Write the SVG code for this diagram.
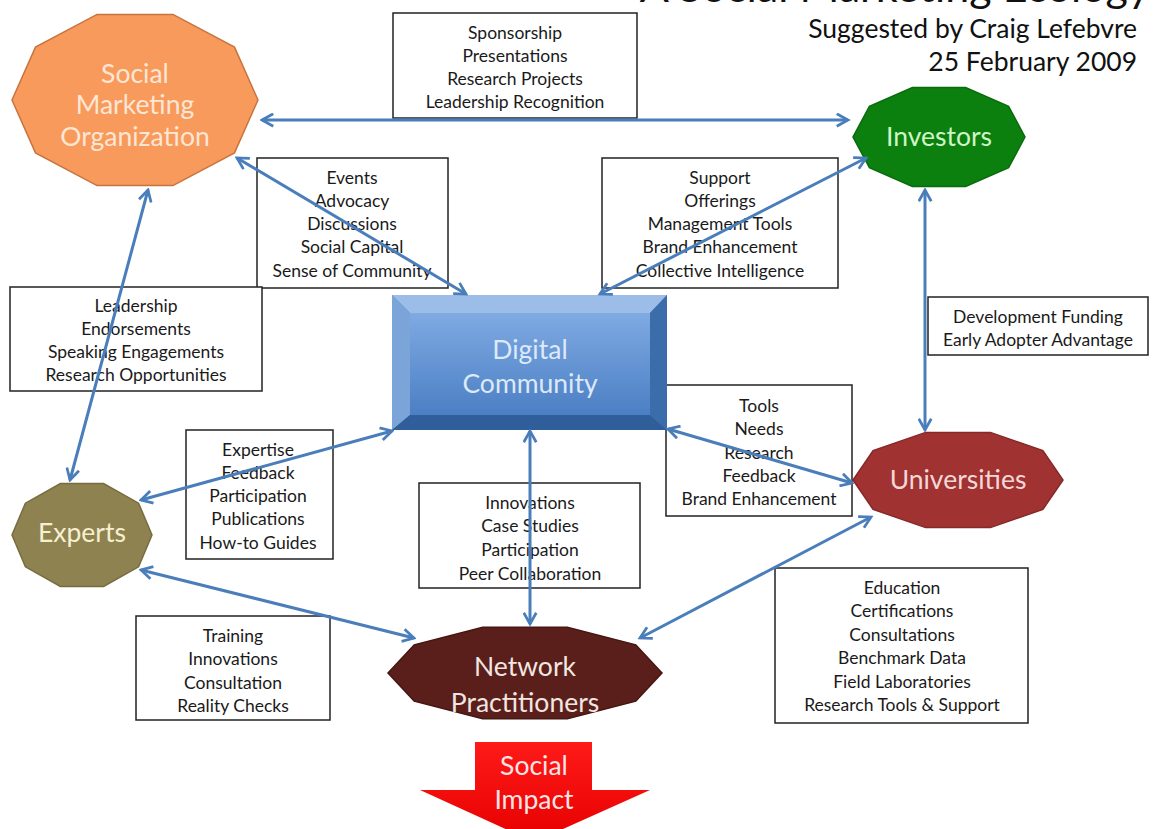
<svg xmlns="http://www.w3.org/2000/svg" width="1157" height="829" viewBox="0 0 1157 829">
<defs>
<style>
.lbl{fill:#fff;stroke:#222;stroke-width:1.5}
.lt{font-family:Lato,"Liberation Sans",sans-serif;font-size:17.5px;fill:#1a1a1a;text-anchor:middle}
.nt{font-family:Lato,"Liberation Sans",sans-serif;font-size:26.5px;text-anchor:middle}
.hd{font-family:Lato,"Liberation Sans",sans-serif;font-size:26.5px;fill:#111;text-anchor:end}
.cn{stroke:#4A7EBB;stroke-width:3;fill:none;marker-start:url(#ah);marker-end:url(#ah)}
</style>
<marker id="ah" viewBox="0 0 12 12" refX="10" refY="6" markerWidth="5" markerHeight="5" orient="auto-start-reverse" markerUnits="strokeWidth">
<path d="M1,1 L10,6 L1,11" fill="none" stroke="#4A7EBB" stroke-width="2.2" stroke-linejoin="miter"/>
</marker>
<linearGradient id="face" x1="0" y1="0" x2="0" y2="1">
<stop offset="0" stop-color="#7FAAE2"/>
<stop offset="1" stop-color="#4B7FC4"/>
</linearGradient>
<linearGradient id="red" x1="0" y1="0" x2="0" y2="1">
<stop offset="0" stop-color="#FF1A1A"/>
<stop offset="1" stop-color="#E60000"/>
</linearGradient>
</defs>
<rect width="1157" height="829" fill="#fff"/>

<g id="title">
<text x="1150" y="2" font-family="Lato,'Liberation Sans',sans-serif" font-size="43" fill="#111" text-anchor="end">A Social Marketing Ecology</text>
<text class="hd" x="1137" y="38">Suggested by Craig Lefebvre</text>
<text class="hd" x="1137" y="71">25 February 2009</text>
</g>

<g id="labels">
<g id="lbl-top"><rect class="lbl" x="393" y="13" width="244" height="105"/>
<text class="lt" x="515" y="39">Sponsorship</text><text class="lt" x="515" y="62">Presentations</text><text class="lt" x="515" y="85">Research Projects</text><text class="lt" x="515" y="108">Leadership Recognition</text></g>
<g id="lbl-events"><rect class="lbl" x="257" y="158" width="191" height="130"/>
<text class="lt" x="352" y="184">Events</text><text class="lt" x="352" y="207">Advocacy</text><text class="lt" x="352" y="230">Discussions</text><text class="lt" x="352" y="253">Social Capital</text><text class="lt" x="352" y="277">Sense of Community</text></g>
<g id="lbl-support"><rect class="lbl" x="602" y="158" width="236" height="130"/>
<text class="lt" x="720" y="184">Support</text><text class="lt" x="720" y="207">Offerings</text><text class="lt" x="720" y="230">Management Tools</text><text class="lt" x="720" y="253">Brand Enhancement</text><text class="lt" x="720" y="277">Collective Intelligence</text></g>
<g id="lbl-leadership"><rect class="lbl" x="10" y="287" width="252" height="104"/>
<text class="lt" x="136" y="312">Leadership</text><text class="lt" x="136" y="335">Endorsements</text><text class="lt" x="136" y="358">Speaking Engagements</text><text class="lt" x="136" y="381">Research Opportunities</text></g>
<g id="lbl-funding"><rect class="lbl" x="928" y="297" width="220" height="58"/>
<text class="lt" x="1038" y="323">Development Funding</text><text class="lt" x="1038" y="346">Early Adopter Advantage</text></g>
<g id="lbl-tools"><rect class="lbl" x="666" y="385" width="186" height="131"/>
<text class="lt" x="759" y="412">Tools</text><text class="lt" x="759" y="435">Needs</text><text class="lt" x="759" y="459">Research</text><text class="lt" x="759" y="482">Feedback</text><text class="lt" x="759" y="505">Brand Enhancement</text></g>
<g id="lbl-expertise"><rect class="lbl" x="186" y="430" width="147" height="129"/>
<text class="lt" x="258" y="456">Expertise</text><text class="lt" x="258" y="479">Feedback</text><text class="lt" x="258" y="502">Participation</text><text class="lt" x="258" y="525">Publications</text><text class="lt" x="258" y="549">How-to Guides</text></g>
<g id="lbl-innov"><rect class="lbl" x="419" y="483" width="221" height="105"/>
<text class="lt" x="530" y="509">Innovations</text><text class="lt" x="530" y="532">Case Studies</text><text class="lt" x="530" y="556">Participation</text><text class="lt" x="530" y="580">Peer Collaboration</text></g>
<g id="lbl-training"><rect class="lbl" x="136" y="616" width="194" height="104"/>
<text class="lt" x="233" y="642">Training</text><text class="lt" x="233" y="665">Innovations</text><text class="lt" x="233" y="689">Consultation</text><text class="lt" x="233" y="712">Reality Checks</text></g>
<g id="lbl-education"><rect class="lbl" x="775" y="568" width="253" height="155"/>
<text class="lt" x="902" y="594">Education</text><text class="lt" x="902" y="617">Certifications</text><text class="lt" x="902" y="641">Consultations</text><text class="lt" x="902" y="664">Benchmark Data</text><text class="lt" x="902" y="688">Field Laboratories</text><text class="lt" x="902" y="711">Research Tools &amp; Support</text></g>
</g>

<g id="smo">
<polygon points="258,100 234.5,152.9 173,185.6 97,185.6 35.5,152.9 12,100 35.5,47.1 97,14.4 173,14.4 234.5,47.1" fill="#F79A5C" stroke="#C8743F" stroke-width="1.5"/>
<text class="nt" x="135" y="83" fill="#FDE6D4">Social</text>
<text class="nt" x="135" y="114" fill="#FDE6D4">Marketing</text>
<text class="nt" x="135" y="146" fill="#FDE6D4">Organization</text>
</g>
<g id="investors">
<polygon points="1025,137 1008.6,167.6 965.6,186.5 912.4,186.5 869.4,167.6 853,137 869.4,106.4 912.4,87.5 965.6,87.5 1008.6,106.4" fill="#0B800E" stroke="#0A6A0C" stroke-width="1.5"/>
<text class="nt" x="939" y="146" fill="#CFF5C8">Investors</text>
</g>
<g id="universities">
<polygon points="1063,480 1042.9,509.4 990.4,527.6 925.6,527.6 873.1,509.4 853,480 873.1,450.6 925.6,432.4 990.4,432.4 1042.9,450.6" fill="#A03232" stroke="#862828" stroke-width="1.5"/>
<text class="nt" x="958" y="489" fill="#F5D7D7">Universities</text>
</g>
<g id="experts">
<polygon points="152,535 138.6,566.8 103.6,586.4 60.4,586.4 25.4,566.8 12,535 25.4,503.2 60.4,483.6 103.6,483.6 138.6,503.2" fill="#8E8250" stroke="#776C40" stroke-width="1.5"/>
<text class="nt" x="82" y="542" fill="#F6F0D0">Experts</text>
</g>
<g id="network">
<polygon points="662,673 635.8,701.2 567.3,718.7 482.7,718.7 414.2,701.2 388,673 414.2,644.8 482.7,627.3 567.3,627.3 635.8,644.8" fill="#5A1F1A" stroke="#451612" stroke-width="1.5"/>
<text class="nt" x="525" y="676" fill="#F2E6E2">Network</text>
<text class="nt" x="525" y="712" fill="#F2E6E2">Practitioners</text>
</g>
<g id="digital">
<rect x="392" y="295" width="275" height="135" fill="#4F81BD"/>
<polygon points="392,295 667,295 650,313 410,313" fill="#9CBDE8"/>
<polygon points="392,295 410,313 410,415 392,430" fill="#7BA4D9"/>
<polygon points="667,295 667,430 650,415 650,313" fill="#3C6DAB"/>
<polygon points="392,430 667,430 650,415 410,415" fill="#2F5E9B"/>
<rect x="410" y="313" width="240" height="102" fill="url(#face)"/>
<text class="nt" x="530" y="359" fill="#DDE9F8">Digital</text>
<text class="nt" x="530" y="393" fill="#DDE9F8">Community</text>
</g>
<g id="impact">
<polygon points="475,742 592,742 592,790 650,790 534,842 420,790 475,790" fill="url(#red)"/>
<text class="nt" x="534" y="775" fill="#FFE4E4">Social</text>
<text class="nt" x="534" y="809" fill="#FFE4E4">Impact</text>
</g>

<g id="connectors">
<line class="cn" x1="262" y1="120" x2="848" y2="120"/>
<line class="cn" x1="237" y1="158" x2="466" y2="294"/>
<line class="cn" x1="866" y1="158" x2="600" y2="294"/>
<line class="cn" x1="148" y1="190" x2="70" y2="480"/>
<line class="cn" x1="925" y1="190" x2="925" y2="430"/>
<line class="cn" x1="392" y1="431" x2="141" y2="500"/>
<line class="cn" x1="668" y1="429" x2="852" y2="483"/>
<line class="cn" x1="530" y1="431" x2="530" y2="624"/>
<line class="cn" x1="141" y1="570" x2="414" y2="638"/>
<line class="cn" x1="871" y1="517" x2="640" y2="638"/>
</g>
</svg>
